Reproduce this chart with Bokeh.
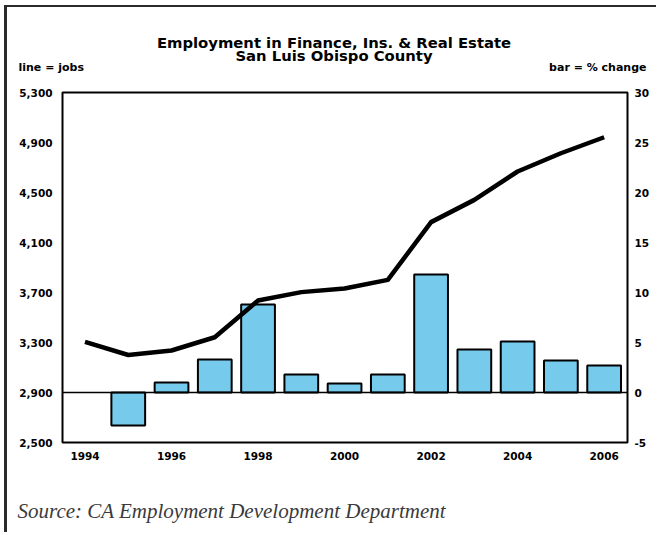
from bokeh.plotting import figure
from bokeh.layouts import column, row
from bokeh.models import (Range1d, LinearAxis, FixedTicker, NumeralTickFormatter,
                          Span, Label)
from bokeh.embed import file_html
from bokeh.resources import INLINE

# ---- data ----
years = [1994, 1995, 1996, 1997, 1998, 1999, 2000, 2001, 2002, 2003, 2004, 2005, 2006]
jobs = [3305, 3200, 3236, 3342, 3636, 3703, 3732, 3801, 4263, 4441, 4668, 4814, 4942]
bar_years = [1995, 1996, 1997, 1998, 1999, 2000, 2001, 2002, 2003, 2004, 2005, 2006]
pct_change = [-3.3, 1.0, 3.3, 8.8, 1.8, 0.9, 1.8, 11.8, 4.3, 5.1, 3.2, 2.7]
left_ticks = [2500, 2900, 3300, 3700, 4100, 4500, 4900, 5300]
right_ticks = [-5, 0, 5, 10, 15, 20, 25, 30]
year_ticks = [1994, 1996, 1998, 2000, 2002, 2004, 2006]

title_line1 = "Employment in Finance, Ins. & Real Estate"
title_line2 = "San Luis Obispo County"
left_note = "line = jobs"
right_note = "bar = % change"
source_note = "Source: CA Employment Development Department"

SANS = "DejaVu Sans"
SERIF = "Liberation Serif"
BORDER = "#2b2b2b"
X0 = 7          # page x where the content starts (inside the outer frame)
Y0 = 7          # page y where the content starts
W = 649         # content width


def blank_fig(height, y_top, y_bottom):
    """A figure whose frame is its whole canvas, in page-pixel coordinates."""
    f = figure(width=W, height=height, output_backend="svg", toolbar_location=None,
               title=None,
               x_range=Range1d(X0, X0 + W), y_range=Range1d(y_bottom, y_top),
               x_axis_location=None, y_axis_location=None, min_border=0)
    f.xgrid.grid_line_color = None
    f.ygrid.grid_line_color = None
    f.outline_line_color = None
    f.background_fill_color = "white"
    f.border_fill_color = "white"
    return f


def add_label(f, x, y, text, align, size, font=SANS, style="bold", color="black"):
    f.add_layout(Label(x=x, y=y, text=text, text_align=align, text_baseline="alphabetic",
                       text_font=font, text_font_style=style,
                       text_font_size=size, text_color=color))


# ---------- header ----------
top = blank_fig(84 - Y0, Y0, 84)
add_label(top, 333.5, 41.7, title_line1, "center", "14.8px")
add_label(top, 333.5, 55.2, title_line2, "center", "14.8px")
add_label(top, 18, 66.6, left_note, "left", "11px")
add_label(top, 646, 66.6, right_note, "right", "11px")

# ---------- main chart ----------
p = figure(width=W, height=386, output_backend="svg", toolbar_location=None, title=None,
           x_range=Range1d(1993.48, 2006.54), y_range=Range1d(2500, 5300),
           min_border_left=62 - X0, min_border_right=X0 + W - 627,
           min_border_top=8, min_border_bottom=28)
p.extra_y_ranges = {"pct": Range1d(-5, 30)}
p.xgrid.grid_line_color = None
p.ygrid.grid_line_color = None
p.outline_line_color = "black"
p.outline_line_width = 2
p.background_fill_color = "white"
p.border_fill_color = "white"

right_axis = LinearAxis(y_range_name="pct")
p.add_layout(right_axis, "right")


def style_axis(ax, ticks, standoff):
    ax.ticker = FixedTicker(ticks=ticks)
    ax.axis_line_color = None
    ax.major_tick_line_color = None
    ax.minor_tick_line_color = None
    ax.major_tick_in = 0
    ax.major_tick_out = 0
    ax.minor_tick_in = 0
    ax.minor_tick_out = 0
    ax.major_label_text_font = SANS
    ax.major_label_text_font_style = "bold"
    ax.major_label_text_font_size = "10.5px"
    ax.major_label_text_color = "black"
    ax.major_label_standoff = standoff


style_axis(p.xaxis[0], year_ticks, 9)
style_axis(p.yaxis[0], left_ticks, 10)
style_axis(right_axis, right_ticks, 7)
p.xaxis[0].formatter = NumeralTickFormatter(format="0")
p.yaxis[0].formatter = NumeralTickFormatter(format="0,0")
right_axis.formatter = NumeralTickFormatter(format="0")

# zero line of the % change axis
p.add_layout(Span(location=0, dimension="width", y_range_name="pct",
                  line_color="black", line_width=1.5))

# bars: % change
p.vbar(x=bar_years, top=pct_change, bottom=0, width=0.78, y_range_name="pct",
       fill_color="#76CBEC", line_color="black", line_width=2)

# line: jobs
p.line(years, jobs, line_color="black", line_width=4.5, line_join="round")

# ---------- footer ----------
bottom = blank_fig(62, 470, 532)
add_label(bottom, 17, 510.3, source_note, "left", "21px", font=SERIF, style="italic", color="#3a3a3a")

# outer frame of the graphic: left and top edges
# (the chart sits in its own row so the column does not align its frame with the text strips)
layout = column(top, row(p), bottom,
                styles={"border-left": "3px solid " + BORDER, "border-top": "2px solid " + BORDER,
                        "margin-left": "4px", "margin-top": "5px"})

open("out.html", "w").write(file_html(layout, INLINE))
